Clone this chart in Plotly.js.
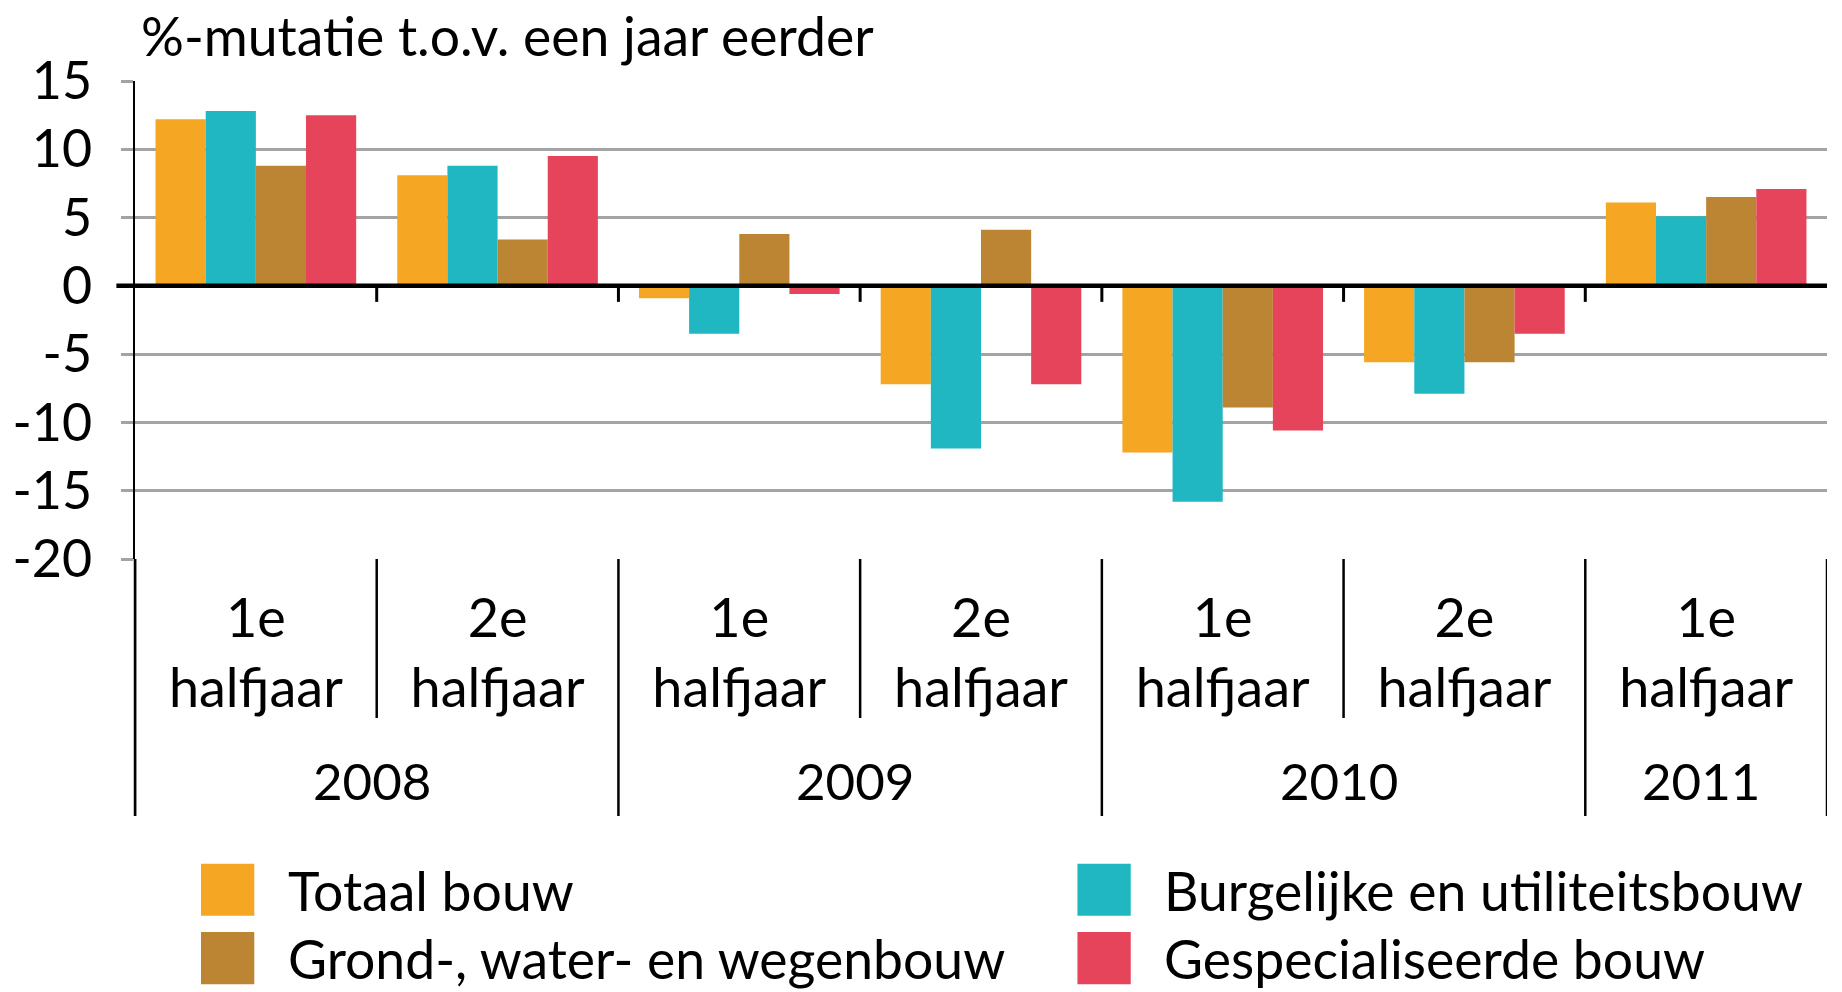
<!DOCTYPE html>
<html><head><meta charset="utf-8">
<script src="https://cdn.plot.ly/plotly-3.0.1.min.js"></script>
<style>html,body{margin:0;padding:0;background:#fff}#chart{width:1842px;height:992px}</style>
</head><body><div id="chart"></div>
<script>
// ---- data ----
const periodLabels = ["1e<br>halfjaar","2e<br>halfjaar","1e<br>halfjaar","2e<br>halfjaar","1e<br>halfjaar","2e<br>halfjaar","1e<br>halfjaar"];
const periodYears = ["2008","2008","2009","2009","2010","2010","2011"];
const seriesNames = ["Totaal bouw","Burgelijke en utiliteitsbouw","Grond-, water- en wegenbouw","Gespecialiseerde bouw"];
const totaalBouw = [12.2, 8.1, -0.9, -7.2, -12.2, -5.6, 6.1];
const burgerlijkUtiliteit = [12.8, 8.8, -3.5, -11.9, -15.8, -7.9, 5.1];
const grondWaterWeg = [8.8, 3.4, 3.8, 4.1, -8.9, -5.6, 6.5];
const gespecialiseerd = [12.5, 9.5, -0.6, -7.2, -10.6, -3.5, 7.1];
const yTicks = [15, 10, 5, 0, -5, -10, -15, -20];
const yTitle = "%-mutatie t.o.v. een jaar eerder";

// ---- style ----
const seriesColors = ["#F5A623", "#20B6C2", "#BB8533", "#E6445A"];
const FONT = "Lato, 'Open Sans', sans-serif";
const GRID = "#a3a3a3";
const yRange = [-20, 15];

const seriesValues = [totaalBouw, burgerlijkUtiliteit, grondWaterWeg, gespecialiseerd];
const xIdx = periodLabels.map((_, i) => i);
const n = periodLabels.length;

const traces = seriesValues.map((vals, k) => ({
  type: "bar", name: seriesNames[k], x: xIdx, y: vals,
  marker: {color: seriesColors[k], line: {width: 0}},
  hoverinfo: "name+y"
}));

const shapes = [];
const annotations = [];

// zero line (extends a little left of axis)
shapes.push({type: "line", xref: "paper", x0: -0.011, x1: 1, yref: "y", y0: 0, y1: 0,
  line: {color: "#000", width: 4.5}, layer: "above"});

// small ticks under zero line at category boundaries
for (let i = 1; i < n; i++) {
  shapes.push({type: "line", xref: "x", x0: i - 0.5, x1: i - 0.5, yref: "y", ysizemode: "pixel",
    yanchor: 0, y0: 0, y1: -16, line: {color: "#000", width: 3}});
}

// dividers in the label area
for (let i = 0; i <= n; i++) {
  const isYear = i === 0 || i === n || periodYears[i] !== periodYears[i - 1];
  shapes.push({type: "line", xref: "x", x0: i - 0.5, x1: i - 0.5, yref: "paper", ysizemode: "pixel",
    yanchor: 0, y0: 0, y1: isYear ? -257 : -159, line: {color: "#000", width: 2.5}});
}

// year labels
const years = [...new Set(periodYears)];
years.forEach(yr => {
  const idx = xIdx.filter(i => periodYears[i] === yr);
  const c = idx.reduce((a, b) => a + b, 0) / idx.length;
  annotations.push({text: yr, xref: "x", x: c - 0.02, yref: "paper", y: -0.464, yanchor: "middle",
    xanchor: "center", showarrow: false, font: {size: 51}});
});

// custom legend (2 columns, row-major)
const legCols = [0.039, 0.557];
const legRows = [-0.692, -0.835];
seriesNames.forEach((nm, k) => {
  const col = k % 2, row = Math.floor(k / 2);
  const cx = legCols[col], cy = legRows[row];
  shapes.push({type: "rect", xref: "paper", yref: "paper", x0: cx, x1: cx + 0.0315,
    y0: cy - 0.0545, y1: cy + 0.0545, fillcolor: seriesColors[k], line: {width: 0}});
  annotations.push({text: nm, xref: "paper", yref: "paper", x: cx + 0.050, y: cy,
    xanchor: "left", yanchor: "middle", showarrow: false, font: {size: 53.5}});
});

const layout = {
  width: 1842, height: 992,
  margin: {l: 135, r: 15, t: 81, b: 433},
  paper_bgcolor: "#fff", plot_bgcolor: "#fff",
  barmode: "group", bargap: 0.17, bargroupgap: 0,
  showlegend: false,
  font: {family: FONT, size: 54, color: "#000"},
  title: {text: yTitle, xref: "container", x: 141 / 1842, xanchor: "left",
    yref: "container", y: 1 - 37 / 992, yanchor: "middle", font: {size: 53.5, color: "#000"}},
  xaxis: {range: [-0.5, n - 0.5], tickmode: "array", tickvals: xIdx, ticktext: periodLabels,
    ticks: "", showgrid: false, zeroline: false, showline: false, ticklabelstandoff: 23,
    tickfont: {size: 54}, fixedrange: true},
  yaxis: {range: yRange, tickmode: "array", tickvals: yTicks, ticktext: yTicks.map(String),
    showline: true, linecolor: "#000", linewidth: 2.5,
    ticks: "outside", ticklen: 12, tickwidth: 3, tickcolor: GRID,
    showgrid: true, gridcolor: GRID, gridwidth: 3, zeroline: false,
    ticklabelstandoff: 18, tickfont: {size: 52}, fixedrange: true},
  shapes: shapes,
  annotations: annotations
};

// extend the y-axis line down through the label area
shapes.push({type: "line", xref: "paper", x0: 0, x1: 0, yref: "paper", ysizemode: "pixel",
  yanchor: 0, y0: 0, y1: -257, line: {color: "#000", width: 2.5}});

Plotly.newPlot("chart", traces, layout, {displayModeBar: false, staticPlot: true});
</script></body></html>
